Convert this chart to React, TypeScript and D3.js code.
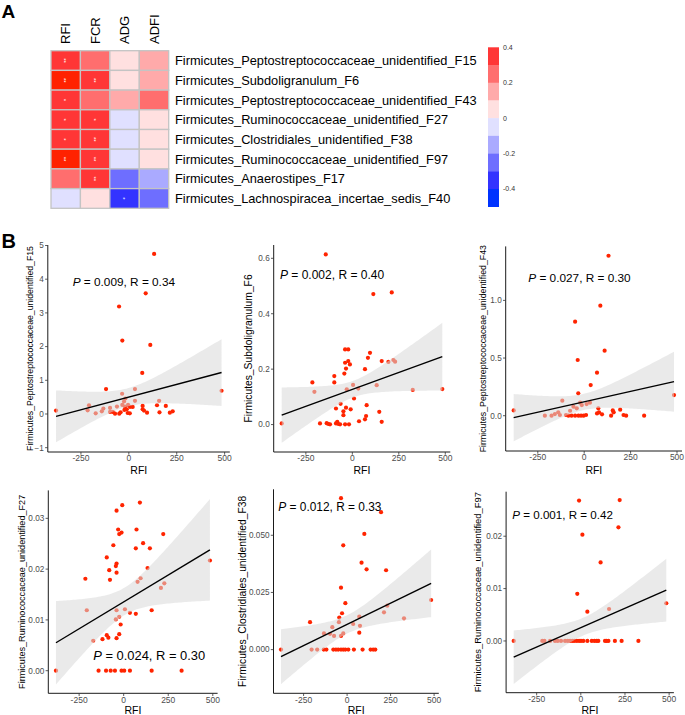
import React from 'react';
import * as d3 from 'd3';

// ---------- Panel A data ----------
const heatRows = [
  'Firmicutes_Peptostreptococcaceae_unidentified_F15',
  'Firmicutes_Subdoligranulum_F6',
  'Firmicutes_Peptostreptococcaceae_unidentified_F43',
  'Firmicutes_Ruminococcaceae_unidentified_F27',
  'Firmicutes_Clostridiales_unidentified_F38',
  'Firmicutes_Ruminococcaceae_unidentified_F97',
  'Firmicutes_Anaerostipes_F17',
  'Firmicutes_Lachnospiracea_incertae_sedis_F40',
];
const heatCols = ['RFI', 'FCR', 'ADG', 'ADFI'];
const heatValues = [
  [0.34, 0.25, 0.05, 0.15],
  [0.40, 0.35, 0.05, 0.15],
  [0.30, 0.22, 0.14, 0.24],
  [0.30, 0.32, -0.05, 0.06],
  [0.33, 0.36, -0.04, 0.05],
  [0.42, 0.37, -0.03, 0.04],
  [0.25, 0.36, -0.26, -0.15],
  [-0.06, 0.04, -0.37, -0.25],
];
const heatStars = [
  ['**', '', '', ''],
  ['**', '**', '', ''],
  ['*', '', '', ''],
  ['*', '*', '', ''],
  ['*', '**', '', ''],
  ['**', '**', '', ''],
  ['', '**', '', ''],
  ['', '', '*', ''],
];
const legendBreaks = [-0.4, -0.3, -0.2, -0.1, 0, 0.1, 0.2, 0.3, 0.4];
const legendColors = ['#0033ff', '#3333ff', '#6e6eff', '#aaaaff', '#e0e0ff', '#ffe0e0', '#ffaaaa', '#ff6e6e', '#ff3636', '#ff2200'];
const legendBlocks = [0.35, 0.25, 0.15, 0.05, -0.05, -0.15, -0.25, -0.35, -0.45];
const legendTicks = [0.4, 0.2, 0, -0.2, -0.4];

// ---------- Panel B data ----------
const rfiTicks = [-250, 0, 250, 500];
const pValues = ['0.009', '0.002', '0.027', '0.024', '0.012', '0.001'];
const rValues = ['0.34', '0.40', '0.30', '0.30', '0.33', '0.42'];

const f15Points = [[132,4.75],[88,3.58],[-51,3.19],[-34,2.18],[112,2.05],[70,1.22],[-119,0.74],[32,0.74],[484,0.69],[-35,0.60],[-380,0.10],[-208,0.26],[-215,0.11],[-173,0.02],[-133,0.16],[-141,0.08],[-98,0.18],[-98,0.06],[-84,0.06],[-72,0.01],[-62,0.22],[-50,0.01],[-43,0.05],[-34,0.27],[-25,0.37],[-20,0.22],[-18,0.46],[-23,0.12],[-11,0.14],[-4,0.27],[-6,0.03],[6,0.21],[20,0.21],[5,0.02],[32,0.39],[72,0.24],[72,0.14],[79,0.10],[95,0.04],[147,0.26],[158,0.39],[160,0.05],[193,0.24],[214,0.04],[229,0.08]];
const f15Fit = [-0.07, 1.23];
const f15Band = [0.77, 0.27, 0.99];
const f15Ticks = [-1, 0, 1, 2, 3, 4, 5];

const f6Points = [[-143,0.614],[113,0.471],[212,0.477],[-39,0.271],[-22,0.271],[95,0.259],[84,0.241],[-22,0.229],[-39,0.223],[-13,0.217],[158,0.229],[194,0.226],[221,0.233],[230,0.227],[68,0.2],[-34,0.202],[-97,0.175],[-97,0.152],[-215,0.152],[-43,0.184],[-204,0.118],[4,0.143],[-30,0.127],[32,0.13],[131,0.142],[325,0.125],[484,0.128],[9,0.094],[-63,0.075],[-88,0.058],[-34,0.061],[-9,0.055],[-48,0.048],[-48,0.034],[77,0.07],[145,0.046],[74,0.031],[68,0.019],[36,0.012],[158,0.01],[-380,0.004],[-174,0.004],[-138,0.005],[-129,0.002],[-120,0.001],[-88,0.004],[-81,0.01],[-75,0.002],[-66,0.001],[-39,0.001],[-18,0.001]];
const f6Fit = [0.034, 0.245];
const f6Band = [0.1, 0.03, 0.122];
const f6Ticks = [0, 0.2, 0.4, 0.6];

const f43Points = [[131,1.387],[87,0.954],[-49,0.815],[110,0.564],[-35,0.483],[69,0.373],[35,0.266],[-32,0.194],[-118,0.13],[484,0.179],[-380,0.046],[-22,0.113],[-13,0.092],[13,0.101],[31,0.113],[-58,0.078],[-40,0.064],[-76,0.043],[-140,0.029],[-158,0.014],[-212,0],[-176,0],[-131,0.006],[-98,0.006],[-85,0],[-68,0],[-49,0],[-31,0],[-17,0],[-3,0],[10,0.006],[69,0.02],[76,0.064],[80,0.029],[96,0.012],[145,0],[154,0.046],[159,0.029],[194,0.052],[212,0.006],[226,0],[323,0]];
const f43Fit = [-0.017, 0.295];
const f43Band = [0.205, 0.07, 0.26];
const f43Ticks = [0, 0.5, 1.0];

const f27Points = [[91,0.0331],[-8,0.0326],[-40,0.0315],[-31,0.0278],[72,0.0278],[-12,0.0272],[-25,0.0269],[222,0.0269],[-58,0.0247],[109,0.0251],[68,0.0241],[147,0.0241],[-95,0.0223],[-40,0.0211],[-44,0.0206],[-81,0.0198],[-40,0.0193],[-215,0.0181],[-77,0.0179],[134,0.0202],[95,0.0182],[78,0.0175],[228,0.0172],[209,0.0163],[-207,0.0119],[-40,0.0119],[7,0.0121],[35,0.0114],[157,0.0119],[68,0.0112],[-25,0.0106],[-44,0.0101],[-17,0.0091],[-95,0.007],[-86,0.0065],[-40,0.0064],[-25,0.0072],[-119,0.0062],[-171,0.0059],[484,0.0217],[-380,0],[-141,0],[-99,0],[-73,0],[-49,0],[-12,0],[3,0],[35,0],[157,0],[325,0]];
const f27Fit = [0.0055, 0.0238];
const f27Band = [0.0082, 0.0027, 0.0100];
const f27Ticks = [0, 0.01, 0.02, 0.03];

const f38Points = [[-35,0.0662],[195,0.0601],[99,0.0506],[-22,0.0456],[83,0.038],[112,0.0351],[224,0.0347],[-35,0.0271],[-10,0.0203],[-47,0.012],[-29,0.0159],[-45,0.014],[483,0.0217],[-213,0.012],[-133,0.0071],[-85,0.0098],[-98,0.0069],[-75,0.006],[-22,0.0071],[-35,0.006],[35,0.0112],[70,0.0144],[74,0.0104],[70,0.0074],[212,0.0163],[231,0.0192],[327,0.0137],[-380,0],[-204,0],[-172,0],[-134,0],[-119,0],[-79,0],[-64,0],[-51,0],[-35,0],[-22,0],[-10,0],[7,0],[39,0],[89,0],[135,0],[150,0],[162,0]];
const f38Fit = [-0.0031, 0.029];
const f38Band = [0.012, 0.004, 0.0148];
const f38Ticks = [0, 0.025, 0.05];

const f97Points = [[-10,0.0268],[220,0.0269],[213,0.0217],[9,0.0203],[112,0.015],[-20,0.009],[160,0.0061],[37,0.0056],[484,0.0072],[-380,0],[-218,0],[-206,0],[-174,0],[-146,0],[-131,0],[-112,0],[-89,0],[-74,0],[-61,0],[-48,0],[-37,0],[-23,0],[-10,0],[1,0],[14,0],[37,0],[62,0],[77,0],[90,0],[99,0],[137,0],[146,0],[156,0],[193,0],[231,0],[326,0]];
const f97Fit = [-0.0031, 0.0097];
const f97Band = [0.0051, 0.0017, 0.006];
const f97Ticks = [0, 0.01, 0.02];

const FONT = '"Liberation Sans", Arial, Helvetica, sans-serif';
const POINT_RED = '#ff2400';

const panels = [
  { points: f15Points, fit: f15Fit, band: f15Band, ticks: f15Ticks, fmt: d3.format('d'), title: heatRows[0],
    xRange: [47.8, 229.8], yDomain: [-1.128, 5.015], yRange: [452, 245], titleX: 30, titleSize: 8.7,
    annX: 72.7, annY: 286.3, annSize: 11.8, p: pValues[0], r: rValues[0], rfiY: 473.5 },
  { points: f6Points, fit: f6Fit, band: f6Band, ticks: f6Ticks, fmt: d3.format('.1f'), title: heatRows[1],
    xRange: [273.7, 450.3], yDomain: [-0.099, 0.648], yRange: [452, 245], titleX: 248, titleSize: 10.3,
    annX: 280, annY: 278.6, annSize: 12, p: pValues[1], r: rValues[1], rfiY: 473.5 },
  { points: f43Points, fit: f43Fit, band: f43Band, ticks: f43Ticks, fmt: d3.format('.1f'), title: heatRows[2],
    xRange: [505.7, 682], yDomain: [-0.306, 1.468], yRange: [451, 246.4], titleX: 483, titleSize: 8.8,
    annX: 528.3, annY: 282, annSize: 11.8, p: pValues[2], r: rValues[2], rfiY: 473.5 },
  { points: f27Points, fit: f27Fit, band: f27Band, ticks: f27Ticks, fmt: d3.format('.2f'), title: heatRows[3],
    xRange: [48.3, 217.6], yDomain: [-0.00445, 0.0355], yRange: [693.3, 490.4], titleX: 21.7, titleSize: 9.1,
    annX: 93.3, annY: 660, annSize: 12.9, p: pValues[3], r: rValues[3], rfiY: 713.5 },
  { points: f38Points, fit: f38Fit, band: f38Band, ticks: f38Ticks, fmt: d3.format('.3f'), title: heatRows[4],
    xRange: [273.5, 438.8], yDomain: [-0.0191, 0.0701], yRange: [693.3, 489.3], titleX: 242, titleSize: 10.3,
    annX: 278.3, annY: 511, annSize: 11.9, p: pValues[4], r: rValues[4], rfiY: 713.5 },
  { points: f97Points, fit: f97Fit, band: f97Band, ticks: f97Ticks, fmt: d3.format('.2f'), title: heatRows[5],
    xRange: [506.1, 673.9], yDomain: [-0.00988, 0.0285], yRange: [692.7, 491.7], titleX: 478, titleSize: 9.4,
    annX: 512.3, annY: 519.2, annSize: 11.6, p: pValues[5], r: rValues[5], rfiY: 713.5 },
];

function Scatter({ cfg, idx }: { cfg: any; idx: number }) {
  const x = d3.scaleLinear().domain([-423, 527]).range(cfg.xRange);
  const y = d3.scaleLinear().domain(cfg.yDomain).range(cfg.yRange);
  const [x1, x2] = d3.extent(cfg.points, (d: number[]) => d[0]) as [number, number];
  const [yL, yR] = cfg.fit;
  const [hL, h0, hR] = cfg.band;
  const a = Math.sqrt(hL * hL - h0 * h0);
  const b = Math.sqrt(hR * hR - h0 * h0);
  const mx = (b * x1 + a * x2) / (a + b);
  const k = (a + b) / (x2 - x1);
  const slope = (yR - yL) / (x2 - x1);
  const band = d3.range(0, 81).map((i) => {
    const xv = x1 + ((x2 - x1) * i) / 80;
    const c = yL + slope * (xv - x1);
    const h = Math.sqrt(h0 * h0 + k * k * (xv - mx) * (xv - mx));
    return { x: xv, lo: c - h, hi: c + h };
  });
  const area = d3.area<any>().x((d) => x(d.x)).y0((d) => y(d.lo)).y1((d) => y(d.hi));
  const line = d3.line<number[]>().x((d) => x(d[0])).y((d) => y(d[1]));
  const left = cfg.xRange[0];
  const right = cfg.xRange[1];
  const top = cfg.yRange[1];
  const bottom = cfg.yRange[0];
  const cy = (top + bottom) / 2;
  const cx = (left + right) / 2;
  const clipId = `clip${idx}`;
  return (
    <g>
      <defs>
        <clipPath id={clipId}>
          <rect x={left} y={top} width={right - left} height={bottom - top} />
        </clipPath>
      </defs>
      <g clipPath={`url(#${clipId})`}>
        {cfg.points.map((d: number[], i: number) => (
          <circle key={i} cx={x(d[0])} cy={y(d[1])} r={2.1} fill={POINT_RED} />
        ))}
        <path d={area(band) || ''} fill="#d8d8d8" fillOpacity={0.55} />
        <path d={line([[x1, yL], [x2, yR]]) || ''} stroke="#000" strokeWidth={1.4} fill="none" />
      </g>
      <line x1={left} x2={left} y1={top} y2={bottom} stroke="#000" strokeWidth={0.9} />
      <line x1={left} x2={right} y1={bottom} y2={bottom} stroke="#000" strokeWidth={0.9} />
      {rfiTicks.map((t) => (
        <g key={t}>
          <line x1={x(t)} x2={x(t)} y1={bottom} y2={bottom + 2.7} stroke="#333" strokeWidth={0.8} />
          <text x={x(t)} y={bottom + 9.3} textAnchor="middle" fontSize={8.5} fill="#4d4d4d" fontFamily={FONT}>
            {t}
          </text>
        </g>
      ))}
      {cfg.ticks.map((t: number) => (
        <g key={t}>
          <line x1={left - 2.7} x2={left} y1={y(t)} y2={y(t)} stroke="#333" strokeWidth={0.8} />
          <text x={left - 4} y={y(t)} dy="0.35em" textAnchor="end" fontSize={8.2} fill="#4d4d4d" fontFamily={FONT}>
            {cfg.fmt(t)}
          </text>
        </g>
      ))}
      <text x={cx} y={cfg.rfiY} textAnchor="middle" fontSize={10.5} fill="#000" fontFamily={FONT}>
        RFI
      </text>
      <text
        transform={`translate(${cfg.titleX},${cy}) rotate(-90)`}
        dy="0.35em"
        textAnchor="middle"
        fontSize={cfg.titleSize}
        fill="#000"
        fontFamily={FONT}
      >
        {cfg.title}
      </text>
      <text x={cfg.annX} y={cfg.annY} fontSize={cfg.annSize} fill="#000" fontFamily={FONT}>
        <tspan fontStyle="italic">P</tspan>
        {` = ${cfg.p}, R = ${cfg.r}`}
      </text>
    </g>
  );
}

function Heatmap() {
  const xb = d3.scaleBand<string>().domain(heatCols).range([51, 168.7]);
  const yb = d3.scaleBand<string>().domain(heatRows).range([50.7, 208.3]);
  const color = d3.scaleThreshold<number, string>().domain(legendBreaks).range(legendColors);
  const ly = d3.scaleLinear().domain([0.4, -0.5]).range([47.3, 206.7]);
  const blockH = ly(0.3) - ly(0.4);
  return (
    <g>
      {heatRows.map((r, i) =>
        heatCols.map((c, j) => {
          const x0 = xb(c)!;
          const y0 = yb(r)!;
          const w = xb.bandwidth();
          const h = yb.bandwidth();
          const s = heatStars[i][j];
          const cxp = x0 + w / 2;
          const cyp = y0 + h / 2;
          return (
            <g key={`${i}-${j}`}>
              <rect x={x0} y={y0} width={w} height={h} fill={color(heatValues[i][j])} stroke="#c4c4c4" strokeWidth={1.3} />
              {s !== '' && (
                <text
                  transform={`translate(${cxp - 3.3},${cyp}) rotate(90)`}
                  textAnchor="middle"
                  fontSize={6}
                  fill="#fff"
                  fontFamily={FONT}
                >
                  {s}
                </text>
              )}
            </g>
          );
        })
      )}
      {heatCols.map((c) => (
        <text
          key={c}
          transform={`translate(${xb(c)! + xb.bandwidth() / 2},44) rotate(-90)`}
          dy="0.35em"
          textAnchor="start"
          fontSize={13}
          fill="#000"
          fontFamily={FONT}
        >
          {c}
        </text>
      ))}
      {heatRows.map((r) => (
        <text key={r} x={175} y={yb(r)! + yb.bandwidth() / 2} dy="0.36em" fontSize={12.8} fill="#000" fontFamily={FONT}>
          {r}
        </text>
      ))}
      {legendBlocks.map((v) => (
        <rect key={v} x={488} y={ly(v + 0.05)} width={11} height={blockH + 0.3} fill={color(v)} />
      ))}
      {legendTicks.map((t) => (
        <text key={t} x={503} y={ly(t)} dy="0.35em" fontSize={7} fill="#333" fontFamily={FONT}>
          {t}
        </text>
      ))}
    </g>
  );
}

export default function App() {
  return (
    <svg
      width={685}
      height={715}
      viewBox="0 0 685 715"
      style={{ position: 'absolute', left: 0, top: 0, display: 'block', background: '#fff' }}
    >
      <rect width={685} height={715} fill="#fff" />
      <text x={1.5} y={18} fontSize={19} fontWeight="bold" fontFamily={FONT} fill="#000">A</text>
      <text x={1.5} y={248} fontSize={20} fontWeight="bold" fontFamily={FONT} fill="#000">B</text>
      <Heatmap />
      {panels.map((p, i) => (
        <Scatter key={i} cfg={p} idx={i} />
      ))}
    </svg>
  );
}
